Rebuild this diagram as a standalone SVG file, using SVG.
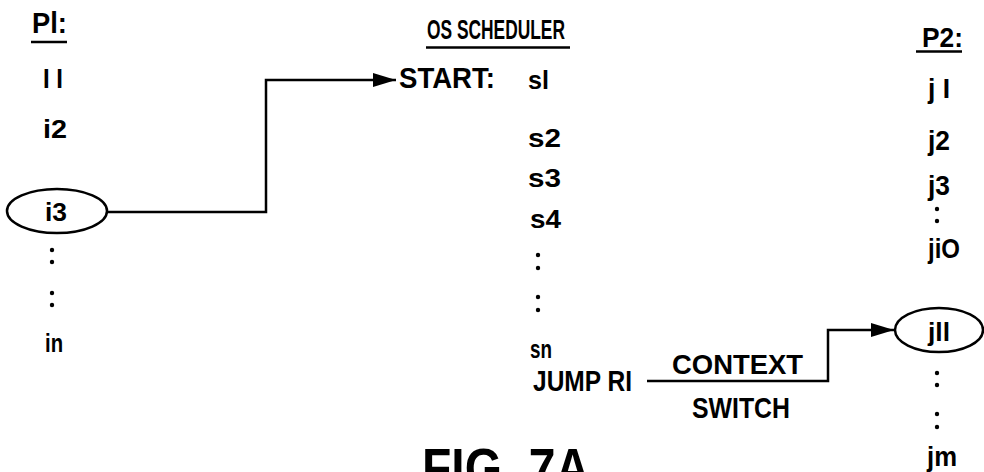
<svg xmlns="http://www.w3.org/2000/svg" width="984" height="472" viewBox="0 0 984 472">
<style>
.t{font-family:"Liberation Sans",Arial,sans-serif;font-weight:bold;fill:#000}
.s26{font-size:26px}
.s28{font-size:28px}
.s30{font-size:30px}
.ul{stroke:#000;stroke-width:2.5;fill:none}
.node{fill:#fff;stroke:#000;stroke-width:2.5}
.conn{fill:none;stroke:#000;stroke-width:2.5}
.dot{fill:#000}
</style>
<defs>
<marker id="ah" markerUnits="userSpaceOnUse" markerWidth="24" markerHeight="16" refX="23" refY="7" orient="auto">
<path d="M0,0 L23,7 L0,14 Z" fill="#000"/>
</marker>
</defs>
<rect width="984" height="472" fill="#fff"/>

<g id="connectors">
<path class="conn" d="M107,212 H266 V80 H396" marker-end="url(#ah)"/>
<path class="conn" d="M647,381 H828 V330 H894" marker-end="url(#ah)"/>
</g>

<g id="p1-header">
<text class="t s30" x="32" y="33" textLength="35" lengthAdjust="spacingAndGlyphs">Pl:</text>
<line class="ul" x1="31" y1="42" x2="67" y2="42"/>
</g>
<g id="p1-i1"><text class="t s28" x="43" y="88" textLength="20" lengthAdjust="spacingAndGlyphs">I I</text></g>
<g id="p1-i2"><text class="t s26" x="43" y="138" textLength="24" lengthAdjust="spacingAndGlyphs">i2</text></g>
<g id="p1-i3">
<ellipse class="node" cx="57" cy="211" rx="50" ry="22"/>
<text class="t s26" x="45" y="221" textLength="22" lengthAdjust="spacingAndGlyphs">i3</text>
</g>
<g id="p1-dots">
<circle class="dot" cx="52" cy="250" r="2.2"/><circle class="dot" cx="52" cy="262" r="2.2"/>
<circle class="dot" cx="52" cy="293" r="2.2"/><circle class="dot" cx="52" cy="305" r="2.2"/>
</g>
<g id="p1-in"><text class="t s26" x="45" y="352" textLength="18" lengthAdjust="spacingAndGlyphs">in</text></g>

<g id="os-header">
<text class="t" style="font-size:27px" x="427" y="39" textLength="138" lengthAdjust="spacingAndGlyphs">OS SCHEDULER</text>
<line class="ul" x1="426" y1="47.5" x2="570" y2="47.5"/>
</g>
<g id="os-start"><text class="t" style="font-size:29px" x="399" y="88" textLength="96" lengthAdjust="spacingAndGlyphs">START:</text></g>
<g id="os-s1"><text class="t s26" x="528" y="89" textLength="21" lengthAdjust="spacingAndGlyphs">sl</text></g>
<g id="os-s2"><text class="t s26" x="528" y="147" textLength="33" lengthAdjust="spacingAndGlyphs">s2</text></g>
<g id="os-s3"><text class="t s26" x="528" y="187" textLength="33" lengthAdjust="spacingAndGlyphs">s3</text></g>
<g id="os-s4"><text class="t s26" x="530" y="228" textLength="31" lengthAdjust="spacingAndGlyphs">s4</text></g>
<g id="os-dots">
<circle class="dot" cx="538" cy="255" r="2.2"/><circle class="dot" cx="538" cy="268" r="2.2"/>
<circle class="dot" cx="538" cy="297" r="2.2"/><circle class="dot" cx="538" cy="310" r="2.2"/>
</g>
<g id="os-sn"><text class="t s26" x="530" y="358" textLength="22" lengthAdjust="spacingAndGlyphs">sn</text></g>
<g id="os-jump"><text class="t s30" x="533" y="391" textLength="99" lengthAdjust="spacingAndGlyphs">JUMP RI</text></g>

<g id="label-context"><text class="t s28" x="672" y="374" textLength="131" lengthAdjust="spacingAndGlyphs">CONTEXT</text></g>
<g id="label-switch"><text class="t s30" x="692" y="418" textLength="98" lengthAdjust="spacingAndGlyphs">SWITCH</text></g>

<g id="p2-header">
<text class="t s28" x="922" y="47" textLength="41" lengthAdjust="spacingAndGlyphs">P2:</text>
<line class="ul" x1="916" y1="51.5" x2="962" y2="51.5"/>
</g>
<g id="p2-j1"><text class="t s28" x="928" y="98" textLength="22" lengthAdjust="spacingAndGlyphs">j I</text></g>
<g id="p2-j2"><text class="t s28" x="928" y="150" textLength="22" lengthAdjust="spacingAndGlyphs">j2</text></g>
<g id="p2-j3"><text class="t s28" x="928" y="195" textLength="22" lengthAdjust="spacingAndGlyphs">j3</text></g>
<g id="p2-dots-a">
<circle class="dot" cx="937" cy="209" r="2.2"/><circle class="dot" cx="937" cy="221" r="2.2"/>
</g>
<g id="p2-j10"><text class="t s28" x="928" y="258" textLength="32" lengthAdjust="spacingAndGlyphs">jiO</text></g>
<g id="p2-j11">
<ellipse class="node" cx="939" cy="330" rx="44" ry="22"/>
<text class="t s26" x="928" y="341" textLength="22" lengthAdjust="spacingAndGlyphs">jll</text>
</g>
<g id="p2-dots-b">
<circle class="dot" cx="937" cy="373" r="2.2"/><circle class="dot" cx="937" cy="385" r="2.2"/>
<circle class="dot" cx="937" cy="414" r="2.2"/><circle class="dot" cx="937" cy="427" r="2.2"/>
</g>
<g id="p2-jm"><text class="t s28" x="927" y="466" textLength="30" lengthAdjust="spacingAndGlyphs">jm</text></g>

<g id="caption"><text class="t" style="font-size:56px" x="422" y="487" textLength="168" lengthAdjust="spacingAndGlyphs">FIG. 7A</text></g>
</svg>
